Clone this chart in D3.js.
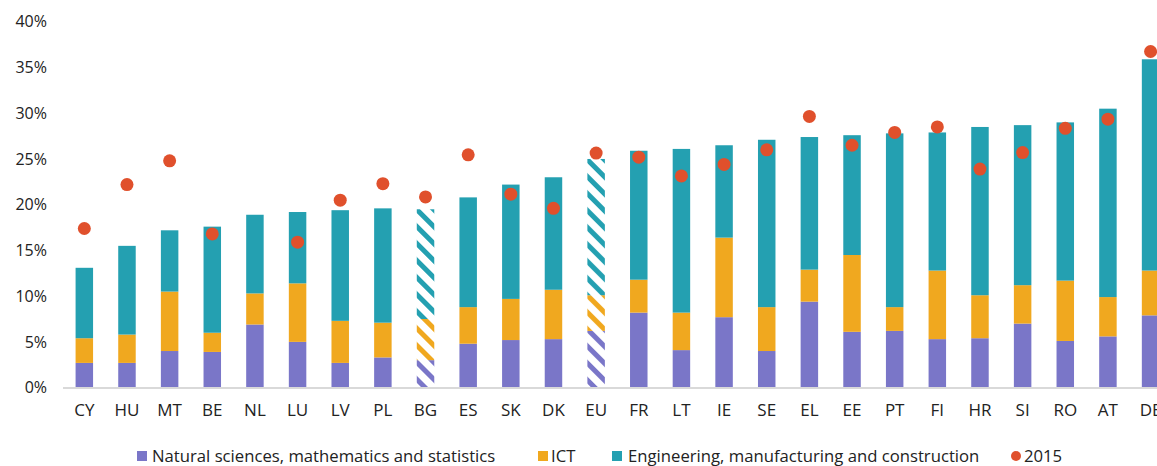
<!DOCTYPE html>
<html>
<head>
<meta charset="utf-8">
<script src="https://cdn.jsdelivr.net/npm/d3@7"></script>
<style>
  body { margin: 0; background: #fff; }
  text { font-family: "Open Sans", sans-serif; fill: #222; }
</style>
</head>
<body>
<div id="chart"></div>
<script>
// data (shares in %)
var countries = ["CY", "HU", "MT", "BE", "NL", "LU", "LV", "PL", "BG", "ES", "SK", "DK", "EU",
                 "FR", "LT", "IE", "SE", "EL", "EE", "PT", "FI", "HR", "SI", "RO", "AT", "DE"];
var natural = [2.7, 2.7, 4.0, 3.9, 6.9, 5.0, 2.7, 3.3, 3.0, 4.8, 5.2, 5.3, 6.2,
               8.2, 4.1, 7.7, 4.0, 9.4, 6.1, 6.2, 5.3, 5.4, 7.0, 5.1, 5.6, 7.9];
var ict = [2.7, 3.1, 6.5, 2.1, 3.4, 6.4, 4.6, 3.8, 4.5, 4.0, 4.5, 5.4, 3.9,
           3.6, 4.1, 8.7, 4.8, 3.5, 8.4, 2.6, 7.5, 4.7, 4.2, 6.6, 4.3, 4.9];
var engineering = [7.7, 9.7, 6.7, 11.6, 8.6, 7.8, 12.1, 12.5, 12.0, 12.0, 12.5, 12.3, 14.9,
                   14.1, 17.9, 10.1, 18.3, 14.5, 13.1, 19.0, 15.1, 18.4, 17.5, 17.3, 20.6, 23.1];
var y2015 = [17.4, 22.2, 24.8, 16.8, null, 15.9, 20.5, 22.3, 20.85, 25.45, 21.15, 19.6, 25.65,
             25.2, 23.15, 24.4, 26.0, 29.65, 26.5, 27.9, 28.5, 23.9, 25.7, 28.35, 29.35, 36.75];
var hatched = ["BG", "EU"];
var yTicks = [0, 5, 10, 15, 20, 25, 30, 35, 40];

var seriesNames = ["Natural sciences, mathematics and statistics", "ICT",
                   "Engineering, manufacturing and construction"];
var seriesKeys = ["natural", "ict", "engineering"];
var colors = ["#7a76c8", "#f0a81f", "#24a0b1"];
var dotColor = "#e0502c";

var svgWidth = 1157, svgHeight = 466;

var rows = countries.map(function(c, i) {
    return {country: c, natural: natural[i], ict: ict[i], engineering: engineering[i], y2015: y2015[i]};
});

var svg = d3.select("#chart").append("svg")
    .attr("width", svgWidth)
    .attr("height", svgHeight);

// diagonal hatching for BG and EU
var defs = svg.append("defs");
colors.forEach(function(col, i) {
    var p = defs.append("pattern")
        .attr("id", "hatch" + i)
        .attr("patternUnits", "userSpaceOnUse")
        .attr("width", 12)
        .attr("height", 12)
        .attr("patternTransform", "rotate(-45)");
    p.append("rect").attr("width", 12).attr("height", 12).attr("fill", "#fff");
    p.append("rect").attr("width", 5).attr("height", 12).attr("fill", col);
});

var x = d3.scaleBand()
    .domain(countries)
    .range([63, 63 + 26 * 42.65])
    .paddingInner(0.59)
    .paddingOuter(0.295);

var y = d3.scaleLinear()
    .domain([0, 40])
    .range([387.6, 21.8]);

// y axis labels (no line)
var yAxis = svg.append("g")
    .attr("transform", "translate(47,0)")
    .call(d3.axisLeft(y).tickValues(yTicks).tickSize(0).tickPadding(0).tickFormat(function(d) { return d + "%"; }));
yAxis.select(".domain").remove();
yAxis.selectAll("text").attr("font-size", "16px").attr("font-family", "Open Sans").attr("fill", "#222");

var stack = d3.stack().keys(seriesKeys);
var layers = stack(rows);

svg.append("g").selectAll("g")
    .data(layers)
    .join("g")
    .each(function(layer, li) {
        d3.select(this).selectAll("rect")
            .data(layer)
            .join("rect")
            .attr("x", function(d) { return x(d.data.country); })
            .attr("width", x.bandwidth())
            .attr("y", function(d) { return y(d[1]); })
            .attr("height", function(d) { return y(d[0]) - y(d[1]); })
            .attr("fill", function(d) {
                return hatched.indexOf(d.data.country) >= 0 ? "url(#hatch" + li + ")" : colors[li];
            });
    });

// baseline
svg.append("line")
    .attr("x1", 63).attr("x2", svgWidth)
    .attr("y1", y(0) + 0.5).attr("y2", y(0) + 0.5)
    .attr("stroke", "#d9d9d9").attr("stroke-width", 2);

// x axis labels
var xAxis = svg.append("g")
    .attr("transform", "translate(0," + (y(0) + 4) + ")")
    .call(d3.axisBottom(x).tickSize(0).tickPadding(12));
xAxis.select(".domain").remove();
xAxis.selectAll("text").attr("font-size", "17px").attr("font-family", "Open Sans").attr("fill", "#222");

// 2015 dots
svg.append("g").selectAll("circle")
    .data(rows.filter(function(d) { return d.y2015 != null; }))
    .join("circle")
    .attr("cx", function(d) { return x(d.country) + x.bandwidth() / 2; })
    .attr("cy", function(d) { return y(d.y2015); })
    .attr("r", 6.5)
    .attr("fill", dotColor);

// legend
var legendItems = [
    {label: seriesNames[0], color: colors[0], x: 137, tx: 152},
    {label: seriesNames[1], color: colors[1], x: 538, tx: 551},
    {label: seriesNames[2], color: colors[2], x: 612, tx: 628},
    {label: "2015", color: dotColor, x: 1011, tx: 1024, dot: true}
];
var legend = svg.append("g").attr("transform", "translate(0,456)");
legendItems.forEach(function(it) {
    if (it.dot) {
        legend.append("circle").attr("cx", it.x + 5).attr("cy", 0).attr("r", 5).attr("fill", it.color);
    } else {
        legend.append("rect").attr("x", it.x).attr("y", -5).attr("width", 10).attr("height", 10).attr("fill", it.color);
    }
    legend.append("text")
        .attr("x", it.tx)
        .attr("y", 0)
        .attr("dy", "0.35em")
        .attr("font-size", "16.7px")
        .text(it.label);
});
</script>
</body>
</html>
